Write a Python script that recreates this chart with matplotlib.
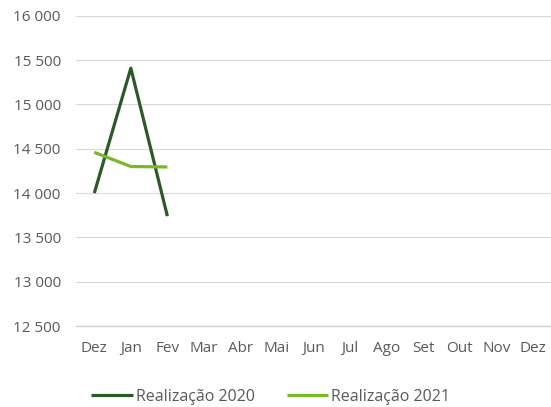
import matplotlib.pyplot as plt
from matplotlib.ticker import FuncFormatter

months = ['Dez', 'Jan', 'Fev', 'Mar', 'Abr', 'Mai', 'Jun', 'Jul', 'Ago', 'Set', 'Out', 'Nov', 'Dez']
real_2020 = [14000, 15410, 13740]
real_2021 = [14460, 14300, 14295]
yticks = [12500, 13000, 13500, 14000, 14500, 15000, 15500, 16000]

plt.rcParams['font.family'] = ['Open Sans', 'DejaVu Sans']

fig = plt.figure(figsize=(5.51, 4.07), dpi=100)
ax = fig.add_axes([0.138, 0.199, 0.862, 0.762])

ax.plot(range(len(real_2020)), real_2020, color='#2B5A27', lw=2.3,
        label='Realização 2020', solid_capstyle='butt')
ax.plot(range(len(real_2021)), real_2021, color='#78B928', lw=2.3,
        label='Realização 2021', solid_capstyle='butt')

ax.set_xlim(-0.5, len(months) - 0.5)
ax.set_xticks(range(len(months)))
ax.set_xticklabels(months)
ax.set_ylim(12500, 16000)
ax.set_yticks(yticks)
ax.yaxis.set_major_formatter(FuncFormatter(lambda v, p: f'{int(v):,}'.replace(',', ' ')))

ax.grid(axis='y', color='#D9D9D9', lw=0.8)
ax.set_axisbelow(True)
for s in ['top', 'right', 'left']:
    ax.spines[s].set_visible(False)
ax.spines['bottom'].set_color('#D0D0D0')
ax.spines['bottom'].set_linewidth(1.0)
ax.tick_params(length=0, labelsize=11, colors='#595959', pad=11)
ax.tick_params(axis='y', pad=11)

ax.legend(loc='lower center', bbox_to_anchor=(0.41, -0.3), ncol=2, frameon=False,
          fontsize=11.5, labelcolor='#595959', handlelength=2.6, handletextpad=0.2,
          columnspacing=2.0)

plt.savefig('out.png', dpi=100)
